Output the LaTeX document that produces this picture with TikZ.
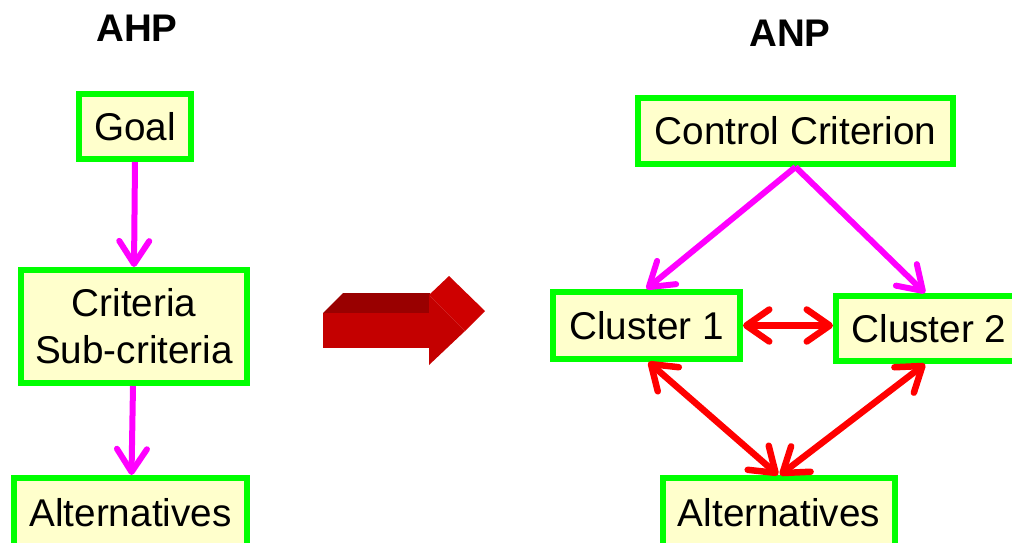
\documentclass[tikz,border=0pt]{standalone}
\usepackage{fontspec}
\setmainfont{Liberation Sans}
\usetikzlibrary{arrows.meta}
\definecolor{boxgreen}{RGB}{0,255,0}
\definecolor{boxfill}{RGB}{255,255,204}
\definecolor{mag}{RGB}{255,0,255}
\definecolor{arrred}{RGB}{255,0,0}
\definecolor{bigfront}{RGB}{196,0,0}
\definecolor{bigtop}{RGB}{153,0,0}
\definecolor{bighead}{RGB}{206,0,0}
\tikzset{
  box/.style={draw=boxgreen, fill=boxfill, line width=6pt, inner sep=0pt,
    align=center, font=\fontsize{38.7}{47}\selectfont},
  title/.style={font=\fontsize{38.5}{46}\selectfont\bfseries},
  magarrow/.style={draw=mag, line width=6pt, -{Straight Barb[length=23pt,width=30pt,round]}},
  redarrow/.style={draw=arrred, line width=6.5pt, {Straight Barb[length=23pt,width=32pt,round]}-{Straight Barb[length=23pt,width=32pt,round]}},
}
\begin{document}
\begin{tikzpicture}[x=1pt,y=-1pt]
\useasboundingbox (0,0) rectangle (1012,542);
% titles
\node[title] (ahp) at (137,28) {AHP};
\node[title] (anp) at (790,33) {ANP};
% AHP
\node[box, minimum width=112pt, minimum height=65pt] (goal) at (135,126.5) {Goal};
\node[box, minimum width=226pt, minimum height=113pt] (crit) at (134,326.5) {Criteria\\Sub-criteria};
\node[box, minimum width=233pt, minimum height=70pt] (altL) at (130.5,513) {Alternatives};
\draw[magarrow] (goal.south) -- (crit.north);
\draw[magarrow] ([xshift=-1pt]crit.south) -- ([xshift=1pt]altL.north);
% ANP
\node[box, minimum width=315pt, minimum height=66pt] (ctrl) at (795.5,131) {Control Criterion};
\node[box, minimum width=187pt, minimum height=67pt] (c1) at (646.5,325.5) {Cluster 1};
\node[box, minimum width=186pt, minimum height=65pt] (c2) at (929,328.5) {Cluster 2};
\node[box, minimum width=232pt, minimum height=70pt] (altR) at (779,513) {Alternatives};
\draw[magarrow] (ctrl.south) -- (c1.north);
\draw[magarrow] (ctrl.south) -- ([xshift=-4pt]c2.north);
\draw[redarrow] (c1.east) -- (c1.east -| c2.west);
\draw[redarrow] ([xshift=2pt]c1.south) -- ([xshift=-1pt]altR.north);
\draw[redarrow] ([xshift=-4pt]c2.south) -- ([xshift=1pt]altR.north);
% big 3D arrow
\fill[bigtop] (323,313) -- (343,293) -- (430,293) -- (430,313) -- cycle;
\fill[bigfront] (323,313) rectangle (430,348);
\fill[bighead] (429,295) -- (449,276) -- (485,311) -- (465,331) -- cycle;
\fill[bigfront] (429,295) -- (465,331) -- (429,365) -- cycle;
\end{tikzpicture}
\end{document}
